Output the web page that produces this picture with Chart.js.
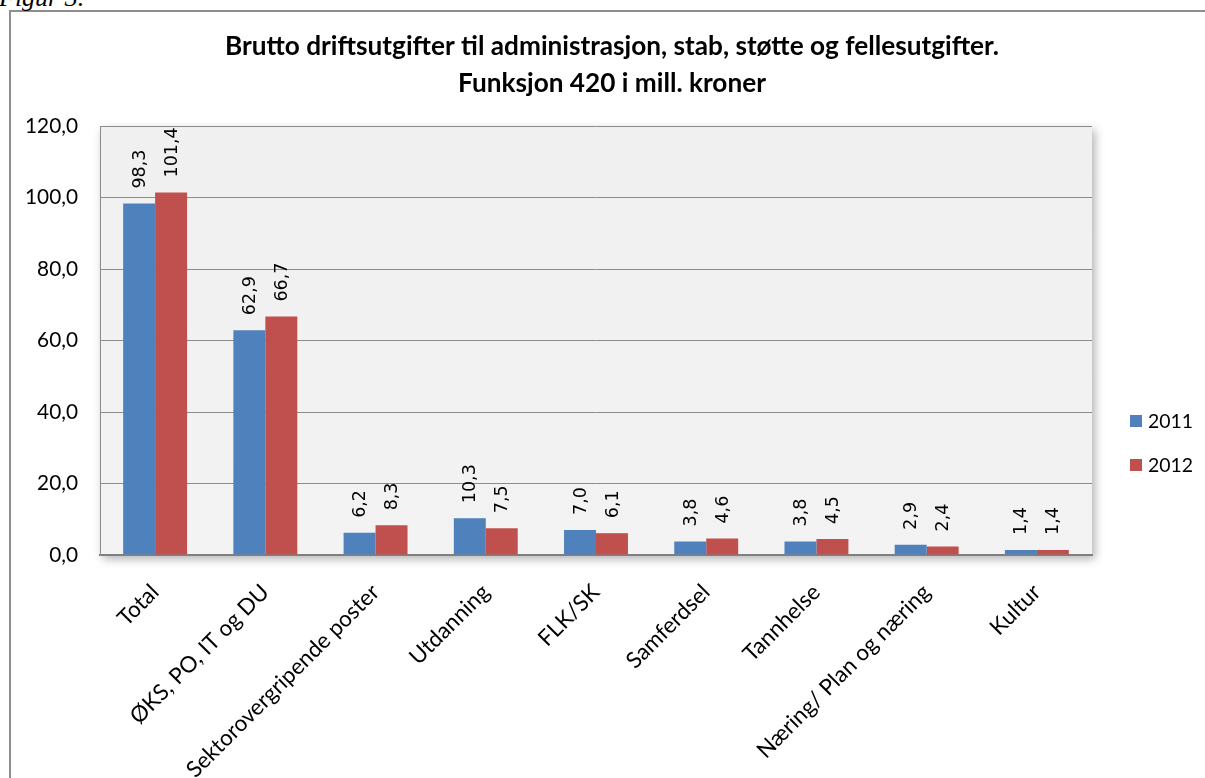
<!DOCTYPE html>
<html>
<head>
<meta charset="utf-8">
<script src="https://cdn.jsdelivr.net/npm/chart.js@4.4.0/dist/chart.umd.min.js"></script>
<style>
  html, body { margin: 0; padding: 0; background: #fff; overflow: hidden; }
  #wrap { position: relative; width: 1205px; height: 778px; }
  #frame { position: absolute; left: 9px; top: 10px; width: 1300px; height: 900px;
           border-top: 2px solid #8f8f8f; border-left: 2px solid #8f8f8f; }
  #fig { position: absolute; left: -1px; top: -17px; font-family: "Liberation Serif", serif;
         font-style: italic; font-size: 26px; color: #000; }
  #c { position: absolute; left: 0; top: 0; }
</style>
</head>
<body>
<div id="wrap">
  <div id="frame"></div>
  <div id="fig">Figur 3.</div>
  <canvas id="c" width="1205" height="778"></canvas>
</div>
<script>
// === Data ===
const categories = ['Total', 'ØKS, PO, IT og DU', 'Sektorovergripende poster', 'Utdanning', 'FLK/SK',
                    'Samferdsel', 'Tannhelse', 'Næring/ Plan og næring', 'Kultur'];
const values2011 = [98.3, 62.9, 6.2, 10.3, 7.0, 3.8, 3.8, 2.9, 1.4];
const values2012 = [101.4, 66.7, 8.3, 7.5, 6.1, 4.6, 4.5, 2.4, 1.4];
const seriesNames = ['2011', '2012'];
const seriesColors = ['#4f81bd', '#c0504d'];
const titleLines = ['Brutto driftsutgifter til administrasjon, stab, støtte og fellesutgifter.',
                    'Funksjon 420 i mill. kroner'];

const fmt = v => v.toFixed(1).replace('.', ',');

// finn skriftstørrelse slik at en tekst får ønsket bredde
const measureCtx = document.createElement('canvas').getContext('2d');
const fitSize = (text, family, weight, width) => {
  measureCtx.font = `${weight} 100px ${family}`;
  return Math.round(100 * width / measureCtx.measureText(text).width * 10) / 10;
};
const titleSize = fitSize(titleLines[0], 'Lato', 'bold', 775);
const tickSize = fitSize('120,0', 'Lato', 'normal', 53);
const catSize = fitSize('Sektorovergripende poster', 'Lato', 'normal', 262);
const valueSize = fitSize('101,4', '"DejaVu Sans"', 'normal', 50);
const legendSize = fitSize('2011', 'Lato', 'normal', 45);

// tittel midt over hele figuren
const chartTitle = {
  id: 'chartTitle',
  afterDraw(chart) {
    const { ctx } = chart;
    ctx.save();
    ctx.font = `bold ${titleSize}px Lato`;
    ctx.fillStyle = '#000';
    ctx.textAlign = 'center';
    ctx.textBaseline = 'alphabetic';
    ctx.fillText(titleLines[0], 612, 55);
    ctx.fillText(titleLines[1], 612, 92);
    ctx.restore();
  }
};

// bakgrunn i plottet med skygge
const plotBg = {
  id: 'plotBg',
  beforeDraw(chart) {
    const { ctx, chartArea: a } = chart;
    ctx.save();
    ctx.shadowColor = 'rgba(0,0,0,0.30)';
    ctx.shadowBlur = 9;
    ctx.shadowOffsetX = 3;
    ctx.shadowOffsetY = 4;
    const g = ctx.createLinearGradient(0, a.top, 0, a.bottom);
    g.addColorStop(0, '#f0f0f0');
    g.addColorStop(1, '#f3f3f3');
    ctx.fillStyle = g;
    ctx.fillRect(a.left, a.top, a.right - a.left, a.bottom - a.top);
    ctx.restore();
  }
};

// verdier over søylene, rotert
const barLabels = {
  id: 'barLabels',
  afterDatasetsDraw(chart) {
    const { ctx } = chart;
    ctx.save();
    ctx.font = `${valueSize}px "DejaVu Sans"`;
    ctx.fillStyle = '#000';
    ctx.textAlign = 'left';
    ctx.textBaseline = 'middle';
    chart.data.datasets.forEach((ds, i) => {
      chart.getDatasetMeta(i).data.forEach((bar, j) => {
        ctx.save();
        ctx.translate(bar.x + 1, bar.y - 15);
        ctx.rotate(-Math.PI / 2);
        ctx.fillText(fmt(ds.data[j]), 0, 0);
        ctx.restore();
      });
    });
    ctx.restore();
  }
};

// egen forklaring til høyre
const sideLegend = {
  id: 'sideLegend',
  afterDraw(chart) {
    const { ctx } = chart;
    ctx.save();
    ctx.font = `${legendSize}px Lato`;
    ctx.textBaseline = 'middle';
    seriesNames.forEach((name, i) => {
      const y = 421 + i * 44;
      ctx.fillStyle = seriesColors[i];
      ctx.fillRect(1130, y - 6, 12, 12);
      ctx.fillStyle = '#000';
      ctx.fillText(name, 1148, y + 1);
    });
    ctx.restore();
  }
};

new Chart(document.getElementById('c'), {
  type: 'bar',
  data: {
    labels: categories,
    datasets: [
      { label: seriesNames[0], data: values2011, backgroundColor: seriesColors[0] },
      { label: seriesNames[1], data: values2012, backgroundColor: seriesColors[1] }
    ]
  },
  options: {
    responsive: false,
    animation: false,
    devicePixelRatio: 1,
    layout: { padding: { left: 0, right: 113, top: 126, bottom: 0 } },
    datasets: { bar: { categoryPercentage: 0.58, barPercentage: 1.0 } },
    plugins: {
      legend: { display: false },
      tooltip: { enabled: false },
      title: { display: false }
    },
    scales: {
      x: {
        afterFit: s => { s.height = 223; },
        grid: { display: false },
        border: { display: true, color: '#808080', width: 2 },
        ticks: {
          color: '#000',
          font: { family: 'Lato', size: catSize },
          minRotation: 45, maxRotation: 45,
          padding: 16
        }
      },
      y: {
        min: 0, max: 120,
        afterFit: s => { s.width = 100; },
        grid: { color: '#8c8c8c', lineWidth: 1, drawTicks: false },
        border: { display: true, color: '#8c8c8c', width: 1 },
        ticks: {
          stepSize: 20,
          color: '#000',
          padding: 22,
          font: { family: 'Lato', size: tickSize },
          callback: v => fmt(v)
        }
      }
    }
  },
  plugins: [plotBg, barLabels, sideLegend, chartTitle]
});
</script>
</body>
</html>
